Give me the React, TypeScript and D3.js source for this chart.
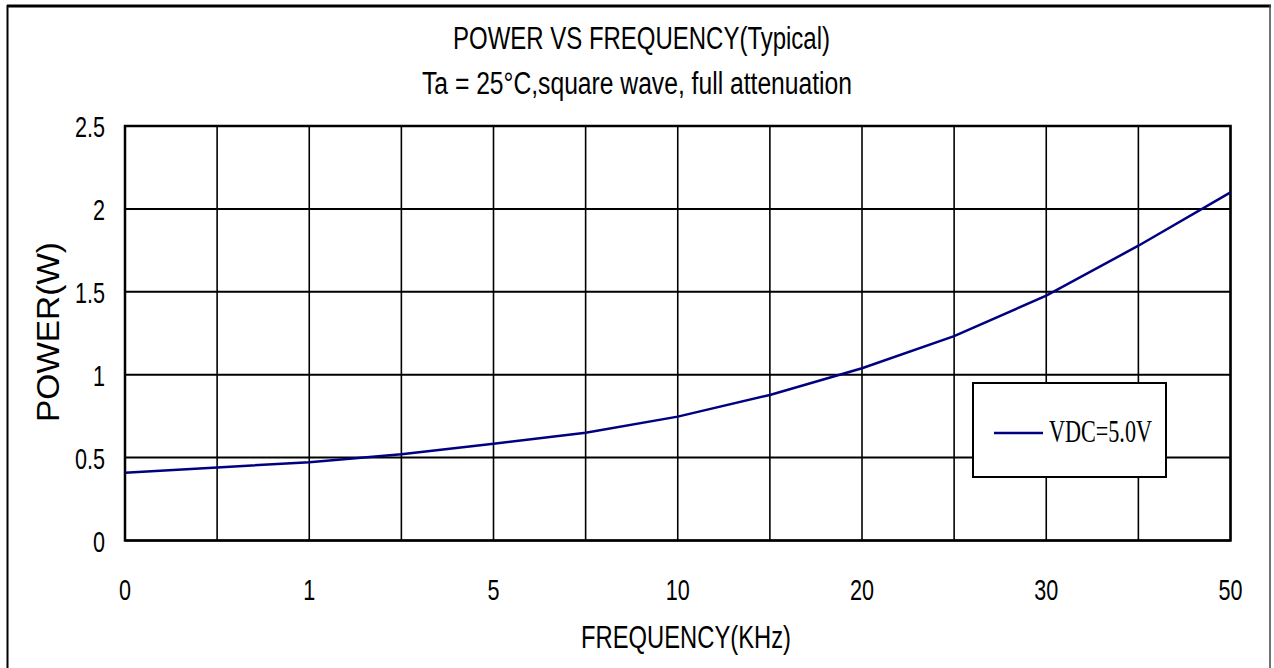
import React from "react";
import * as d3 from "d3";

const xTickLabels = ["0", "", "1", "", "5", "", "10", "", "20", "", "30", "", "50"];
const powerValues = [0.409, 0.441, 0.472, 0.52, 0.584, 0.65, 0.747, 0.878, 1.039, 1.233, 1.477, 1.778, 2.1];
const yTicks = [0, 0.5, 1, 1.5, 2, 2.5];
const titleLine1 = "POWER VS FREQUENCY(Typical)";
const titleLine2 = "Ta = 25°C,square wave, full attenuation";
const xAxisTitle = "FREQUENCY(KHz)";
const yAxisTitle = "POWER(W)";
const seriesName = "VDC=5.0V";

const W = 1274;
const H = 668;
const plot = { left: 125, right: 1230.5, top: 126, bottom: 540.5 };
const SANS = "'Liberation Sans', Arial, sans-serif";
const SERIF = "'Liberation Serif', 'DejaVu Serif', serif";

export default function App() {
  const idx = xTickLabels.map((_, i) => i);
  const x = d3.scalePoint<number>().domain(idx).range([plot.left, plot.right]);
  const y = d3.scaleLinear().domain([0, 2.5]).range([plot.bottom, plot.top]);
  const line = d3
    .line<number>()
    .x((_, i) => x(i) as number)
    .y((d) => y(d))
    .curve(d3.curveLinear);

  const cond = (px: number, py: number) => `translate(${px},${py}) scale(0.72,1)`;

  return (
    <svg
      width={W}
      height={H}
      style={{ position: "absolute", left: 0, top: 0, background: "#fff" }}
    >
      <rect x={0} y={0} width={W} height={H} fill="#fff" />
      {/* outer frame */}
      <line x1={7} x2={1271} y1={6} y2={6} stroke="#000" strokeWidth={3} />
      <line x1={7.5} x2={7.5} y1={5} y2={H} stroke="#000" strokeWidth={2} />
      <line x1={1270} x2={1270} y1={5} y2={H} stroke="#444" strokeWidth={1.5} />

      {/* titles */}
      <text
        x={641.5}
        y={49}
        textAnchor="middle"
        fontFamily={SANS}
        fontSize={31}
        textLength={377}
        lengthAdjust="spacingAndGlyphs"
      >
        {titleLine1}
      </text>
      <text
        x={637}
        y={94}
        textAnchor="middle"
        fontFamily={SANS}
        fontSize={31}
        textLength={430}
        lengthAdjust="spacingAndGlyphs"
      >
        {titleLine2}
      </text>

      {/* horizontal gridlines */}
      {yTicks.map((t) => (
        <line
          key={"h" + t}
          x1={plot.left}
          x2={plot.right}
          y1={y(t)}
          y2={y(t)}
          stroke="#000"
          strokeWidth={2}
        />
      ))}
      {/* vertical gridlines */}
      {idx.map((i) => (
        <line
          key={"v" + i}
          x1={x(i) as number}
          x2={x(i) as number}
          y1={plot.top}
          y2={plot.bottom}
          stroke="#000"
          strokeWidth={1.6}
        />
      ))}
      <rect
        x={plot.left}
        y={plot.top}
        width={plot.right - plot.left}
        height={plot.bottom - plot.top}
        fill="none"
        stroke="#000"
        strokeWidth={2.5}
      />

      {/* y tick labels */}
      {yTicks.map((t) => (
        <text
          key={"yl" + t}
          transform={cond(105, y(t) + 11)}
          textAnchor="end"
          fontFamily={SANS}
          fontSize={30}
        >
          {d3.format("")(t)}
        </text>
      ))}
      {/* x tick labels */}
      {xTickLabels.map((l, i) =>
        l ? (
          <text
            key={"xl" + i}
            transform={cond(x(i) as number, 600)}
            textAnchor="middle"
            fontFamily={SANS}
            fontSize={30}
          >
            {l}
          </text>
        ) : null
      )}

      {/* axis titles */}
      <text
        x={686}
        y={648}
        textAnchor="middle"
        fontFamily={SANS}
        fontSize={31}
        textLength={210}
        lengthAdjust="spacingAndGlyphs"
      >
        {xAxisTitle}
      </text>
      <text
        transform={`translate(59,332) rotate(-90)`}
        textAnchor="middle"
        fontFamily={SANS}
        fontSize={32}
        textLength={180}
        lengthAdjust="spacingAndGlyphs"
      >
        {yAxisTitle}
      </text>

      {/* series */}
      <path d={line(powerValues) || ""} fill="none" stroke="#000080" strokeWidth={2.5} />

      {/* legend */}
      <rect x={973} y={383} width={193} height={94} fill="#fff" stroke="#000" strokeWidth={2} />
      <line x1={994} x2={1043} y1={433} y2={433} stroke="#000080" strokeWidth={2.5} />
      <text
        x={1049}
        y={442}
        fontFamily={SERIF}
        fontSize={31}
        textLength={103}
        lengthAdjust="spacingAndGlyphs"
      >
        {seriesName}
      </text>
    </svg>
  );
}
